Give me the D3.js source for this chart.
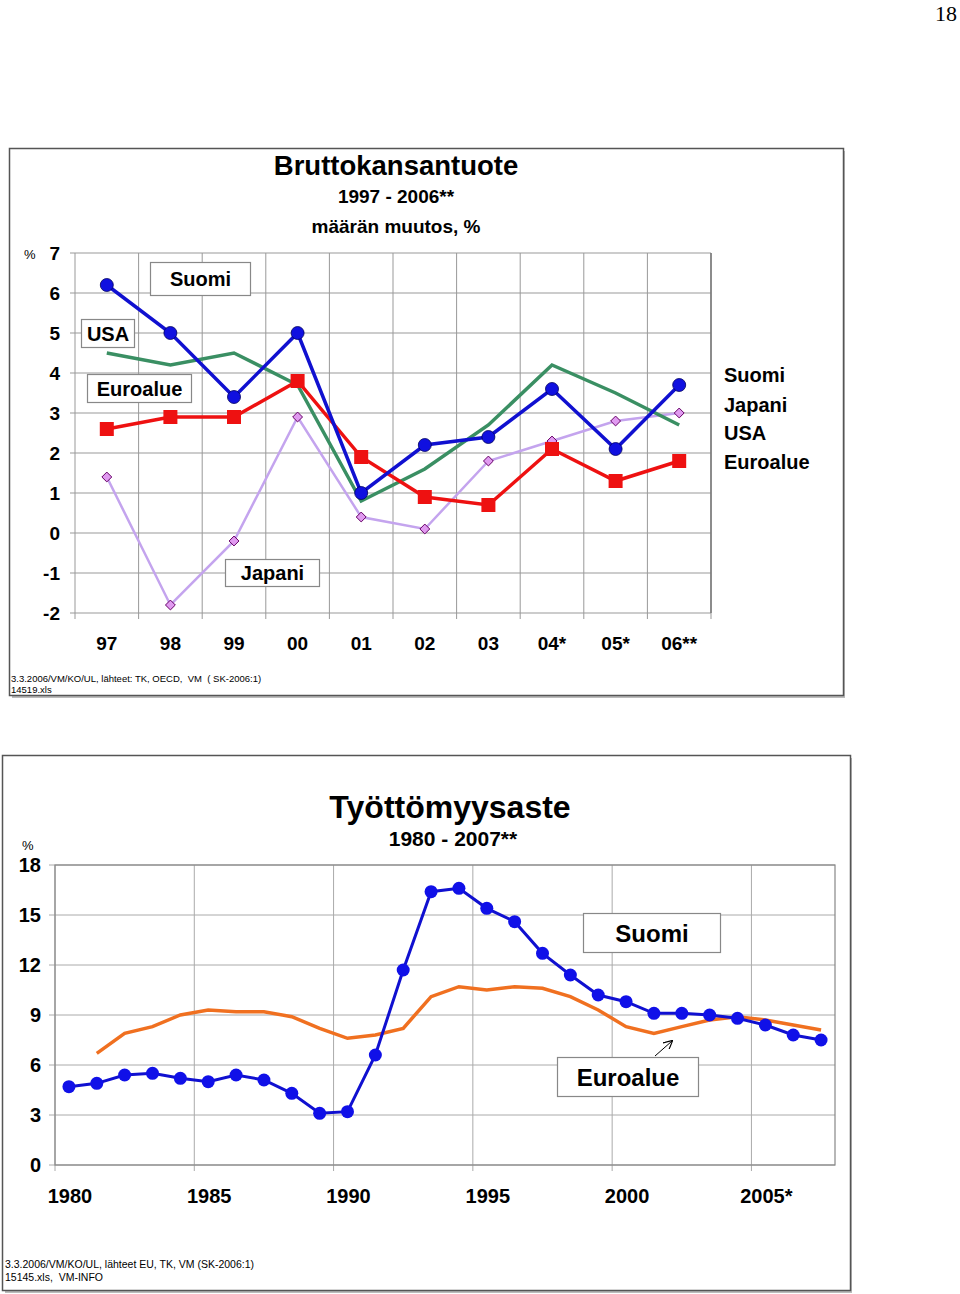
<!DOCTYPE html>
<html lang="fi">
<head>
<meta charset="utf-8">
<title>Bruttokansantuote ja työttömyysaste</title>
<script src="https://cdn.jsdelivr.net/npm/d3@7"></script>
<style>
  body { margin: 0; background: #fff; }
  svg { display: block; font-family: "Liberation Sans", Arial, sans-serif; }
  .b { font-weight: bold; }
</style>
</head>
<body>
<script>
  var w = 960, h = 1294;

  // ---- BKT data (määrän muutos, %)
  var years1 = ["97", "98", "99", "00", "01", "02", "03", "04*", "05*", "06**"];
  var suomi1 = [6.2, 5.0, 3.4, 5.0, 1.0, 2.2, 2.4, 3.6, 2.1, 3.7];
  var usa1 = [4.5, 4.2, 4.5, 3.7, 0.8, 1.6, 2.7, 4.2, 3.5, 2.7];
  var euro1 = [2.6, 2.9, 2.9, 3.8, 1.9, 0.9, 0.7, 2.1, 1.3, 1.8];
  var japani1 = [1.4, -1.8, -0.2, 2.9, 0.4, 0.1, 1.8, 2.3, 2.8, 3.0];
  var yTicks1 = [-2, -1, 0, 1, 2, 3, 4, 5, 6, 7];

  // ---- työttömyysaste data
  var years2 = d3.range(1980, 2008);
  var suomi2 = [4.7, 4.9, 5.4, 5.5, 5.2, 5.0, 5.4, 5.1, 4.3, 3.1, 3.2, 6.6, 11.7, 16.4,
                16.6, 15.4, 14.6, 12.7, 11.4, 10.2, 9.8, 9.1, 9.1, 9.0, 8.8, 8.4, 7.8, 7.5];
  var euro2 = [null, 6.7, 7.9, 8.3, 9.0, 9.3, 9.2, 9.2, 8.9, 8.2, 7.6, 7.8, 8.2, 10.1,
               10.7, 10.5, 10.7, 10.6, 10.1, 9.3, 8.3, 7.9, 8.3, 8.7, 8.9, 8.7, 8.4, 8.1];
  var yTicks2 = [0, 3, 6, 9, 12, 15, 18];
  var xLabels2 = {1980: "1980", 1985: "1985", 1990: "1990", 1995: "1995", 2000: "2000", 2005: "2005*"};

  var svg = d3.select("body").append("svg")
              .attr("width", w)
              .attr("height", h);

  svg.append("text").attr("x", 946).attr("y", 21)
     .attr("text-anchor", "middle")
     .attr("font-family", "'Liberation Serif', 'Times New Roman', serif")
     .attr("font-size", 22).text("18");

  /////////////// CHART 1: Bruttokansantuote
  var c1 = svg.append("g").attr("class", "bkt");

  c1.append("rect").attr("x", 12).attr("y", 151).attr("width", 833).attr("height", 547).attr("fill", "#bbb");
  c1.append("rect").attr("x", 9.5).attr("y", 148.5).attr("width", 834).attr("height", 547)
    .attr("fill", "#fff").attr("stroke", "#555").attr("stroke-width", 1.5);

  var x1 = d3.scaleBand().domain(years1).range([75, 711]);
  var y1 = d3.scaleLinear().domain([-2, 7]).range([613, 253]);
  var cx1 = function(i) { return x1(years1[i]) + x1.bandwidth() / 2; };

  // horizontal grid
  c1.append("g").selectAll("line").data(yTicks1).enter().append("line")
    .attr("x1", 70).attr("x2", 711)
    .attr("y1", function(d) { return y1(d); }).attr("y2", function(d) { return y1(d); })
    .attr("stroke", "#999").attr("stroke-width", 1);
  // vertical grid
  var vb1 = years1.map(function(d) { return x1(d); }).concat([711]);
  c1.append("g").selectAll("line").data(vb1).enter().append("line")
    .attr("x1", function(d) { return d; }).attr("x2", function(d) { return d; })
    .attr("y1", 253).attr("y2", 619)
    .attr("stroke", "#999").attr("stroke-width", 1);
  c1.append("line").attr("x1", 711).attr("x2", 711).attr("y1", 253).attr("y2", 613)
    .attr("stroke", "#777").attr("stroke-width", 1.5);

  // y axis labels
  c1.append("g").selectAll("text").data(yTicks1).enter().append("text")
    .attr("class", "b").attr("x", 60).attr("y", function(d) { return y1(d) + 7; })
    .attr("text-anchor", "end").attr("font-size", 19)
    .text(function(d) { return d; });
  c1.append("text").attr("x", 24).attr("y", 259).attr("font-size", 13).text("%");

  // x axis labels
  c1.append("g").selectAll("text").data(years1).enter().append("text")
    .attr("class", "b").attr("x", function(d, i) { return cx1(i); }).attr("y", 650)
    .attr("text-anchor", "middle").attr("font-size", 19)
    .text(function(d) { return d; });

  var line1 = d3.line().x(function(d, i) { return cx1(i); }).y(function(d) { return y1(d); });

  c1.append("path").attr("d", line1(japani1)).attr("fill", "none")
    .attr("stroke", "#c4a4ee").attr("stroke-width", 2.5);
  c1.append("path").attr("d", line1(usa1)).attr("fill", "none")
    .attr("stroke", "#3a8f63").attr("stroke-width", 3.5);
  c1.append("path").attr("d", line1(euro1)).attr("fill", "none")
    .attr("stroke", "#ee1111").attr("stroke-width", 3.5);
  c1.append("path").attr("d", line1(suomi1)).attr("fill", "none")
    .attr("stroke", "#1010d0").attr("stroke-width", 3.5);

  c1.append("g").selectAll("path").data(japani1).enter().append("path")
    .attr("d", d3.symbol().type(d3.symbolDiamond2).size(62))
    .attr("transform", function(d, i) { return "translate(" + cx1(i) + "," + y1(d) + ")"; })
    .attr("fill", "#e09af0").attr("stroke", "#660066").attr("stroke-width", 1);
  c1.append("g").selectAll("rect").data(euro1).enter().append("rect")
    .attr("x", function(d, i) { return cx1(i) - 7; }).attr("y", function(d) { return y1(d) - 7; })
    .attr("width", 14).attr("height", 14).attr("fill", "#ee1111");
  c1.append("g").selectAll("circle").data(suomi1).enter().append("circle")
    .attr("cx", function(d, i) { return cx1(i); }).attr("cy", function(d) { return y1(d); })
    .attr("r", 6.5).attr("fill", "#1010e0").attr("stroke", "#000060").attr("stroke-width", 0.8);

  function labelBox(g, x, y, bw, bh, txt, fs) {
    g.append("rect").attr("x", x).attr("y", y).attr("width", bw).attr("height", bh)
     .attr("fill", "#fff").attr("stroke", "#888").attr("stroke-width", 1.2);
    g.append("text").attr("class", "b").attr("x", x + bw / 2).attr("y", y + bh / 2 + fs * 0.36)
     .attr("text-anchor", "middle").attr("font-size", fs).text(txt);
  }
  labelBox(c1, 150.5, 262.5, 100, 33, "Suomi", 20);
  labelBox(c1, 81.5, 319.5, 53, 28, "USA", 20);
  labelBox(c1, 87.5, 374.5, 104, 28, "Euroalue", 20);
  labelBox(c1, 225.5, 559.5, 94, 27, "Japani", 20);

  // titles
  c1.append("text").attr("class", "b").attr("x", 396).attr("y", 175)
    .attr("text-anchor", "middle").attr("font-size", 27.5).text("Bruttokansantuote");
  c1.append("text").attr("class", "b").attr("x", 396).attr("y", 203)
    .attr("text-anchor", "middle").attr("font-size", 19).text("1997 - 2006**");
  c1.append("text").attr("class", "b").attr("x", 396).attr("y", 233)
    .attr("text-anchor", "middle").attr("font-size", 19).text("määrän muutos, %");

  // right legend text
  var legend1 = ["Suomi", "Japani", "USA", "Euroalue"];
  var legendY1 = [382, 412, 440, 469];
  c1.append("g").selectAll("text").data(legend1).enter().append("text")
    .attr("class", "b").attr("x", 724).attr("y", function(d, i) { return legendY1[i]; })
    .attr("font-size", 20).text(function(d) { return d; });

  c1.append("text").attr("x", 11).attr("y", 682).attr("font-size", 9.5)
    .attr("xml:space", "preserve").text("3.3.2006/VM/KO/UL, lähteet: TK, OECD,  VM  ( SK-2006:1)");
  c1.append("text").attr("x", 11).attr("y", 693).attr("font-size", 9.5).text("14519.xls");

  /////////////// CHART 2: Työttömyysaste
  var c2 = svg.append("g").attr("class", "tyott");

  c2.append("rect").attr("x", 5).attr("y", 758).attr("width", 847).attr("height", 535).attr("fill", "#bbb");
  c2.append("rect").attr("x", 2.5).attr("y", 755.5).attr("width", 848).attr("height", 535)
    .attr("fill", "#fff").attr("stroke", "#555").attr("stroke-width", 1.5);

  var x2 = d3.scaleBand().domain(years2).range([55, 835]);
  var y2 = d3.scaleLinear().domain([0, 18]).range([1165, 865]);
  var cx2 = function(yr) { return x2(yr) + x2.bandwidth() / 2; };

  c2.append("g").selectAll("line").data(yTicks2).enter().append("line")
    .attr("x1", 49).attr("x2", 835)
    .attr("y1", function(d) { return y2(d); }).attr("y2", function(d) { return y2(d); })
    .attr("stroke", "#aaa").attr("stroke-width", 1);
  var vb2 = years2.filter(function(d) { return d % 5 === 0; }).map(function(d) { return x2(d); });
  c2.append("g").selectAll("line").data(vb2).enter().append("line")
    .attr("x1", function(d) { return d; }).attr("x2", function(d) { return d; })
    .attr("y1", 865).attr("y2", 1171)
    .attr("stroke", "#aaa").attr("stroke-width", 1);
  c2.append("rect").attr("x", 55).attr("y", 865).attr("width", 780).attr("height", 300)
    .attr("fill", "none").attr("stroke", "#888").attr("stroke-width", 1.2);

  c2.append("g").selectAll("text").data(yTicks2).enter().append("text")
    .attr("class", "b").attr("x", 41).attr("y", function(d) { return y2(d) + 7; })
    .attr("text-anchor", "end").attr("font-size", 20)
    .text(function(d) { return d; });
  c2.append("text").attr("x", 22).attr("y", 850).attr("font-size", 13).text("%");

  var xl2 = Object.keys(xLabels2).map(Number);
  c2.append("g").selectAll("text").data(xl2).enter().append("text")
    .attr("class", "b").attr("x", function(d) { return cx2(d) + 1; }).attr("y", 1203)
    .attr("text-anchor", "middle").attr("font-size", 20)
    .text(function(d) { return xLabels2[d]; });

  var line2 = d3.line()
    .defined(function(d) { return d != null; })
    .x(function(d, i) { return cx2(years2[i]); })
    .y(function(d) { return y2(d); });

  c2.append("path").attr("d", line2(euro2)).attr("fill", "none")
    .attr("stroke", "#f07020").attr("stroke-width", 3.5);
  c2.append("path").attr("d", line2(suomi2)).attr("fill", "none")
    .attr("stroke", "#1010d0").attr("stroke-width", 3);
  c2.append("g").selectAll("circle").data(suomi2).enter().append("circle")
    .attr("cx", function(d, i) { return cx2(years2[i]); }).attr("cy", function(d) { return y2(d); })
    .attr("r", 6.5).attr("fill", "#1010e8");

  labelBox(c2, 583.5, 913.5, 137, 39, "Suomi", 24);
  labelBox(c2, 557.5, 1057.5, 141, 39, "Euroalue", 24);

  // arrow to Euroalue line
  svg.append("defs").append("marker").attr("id", "ah")
     .attr("viewBox", "0 0 10 10").attr("refX", 9).attr("refY", 5)
     .attr("markerWidth", 9).attr("markerHeight", 9).attr("orient", "auto")
     .append("path").attr("d", "M0,0 L10,5 L0,10").attr("fill", "none").attr("stroke", "#000").attr("stroke-width", 1.3);
  c2.append("line").attr("x1", 655).attr("y1", 1056).attr("x2", 672).attr("y2", 1041)
    .attr("stroke", "#000").attr("stroke-width", 1).attr("marker-end", "url(#ah)");

  c2.append("text").attr("class", "b").attr("x", 450).attr("y", 818)
    .attr("text-anchor", "middle").attr("font-size", 32).text("Työttömyysaste");
  c2.append("text").attr("class", "b").attr("x", 453).attr("y", 846)
    .attr("text-anchor", "middle").attr("font-size", 21).text("1980 - 2007**");

  c2.append("text").attr("x", 5).attr("y", 1268).attr("font-size", 10.5)
    .text("3.3.2006/VM/KO/UL, lähteet EU, TK, VM (SK-2006:1)");
  c2.append("text").attr("x", 5).attr("y", 1281).attr("font-size", 10.5)
    .attr("xml:space", "preserve").text("15145.xls,  VM-INFO");
</script>
</body>
</html>
